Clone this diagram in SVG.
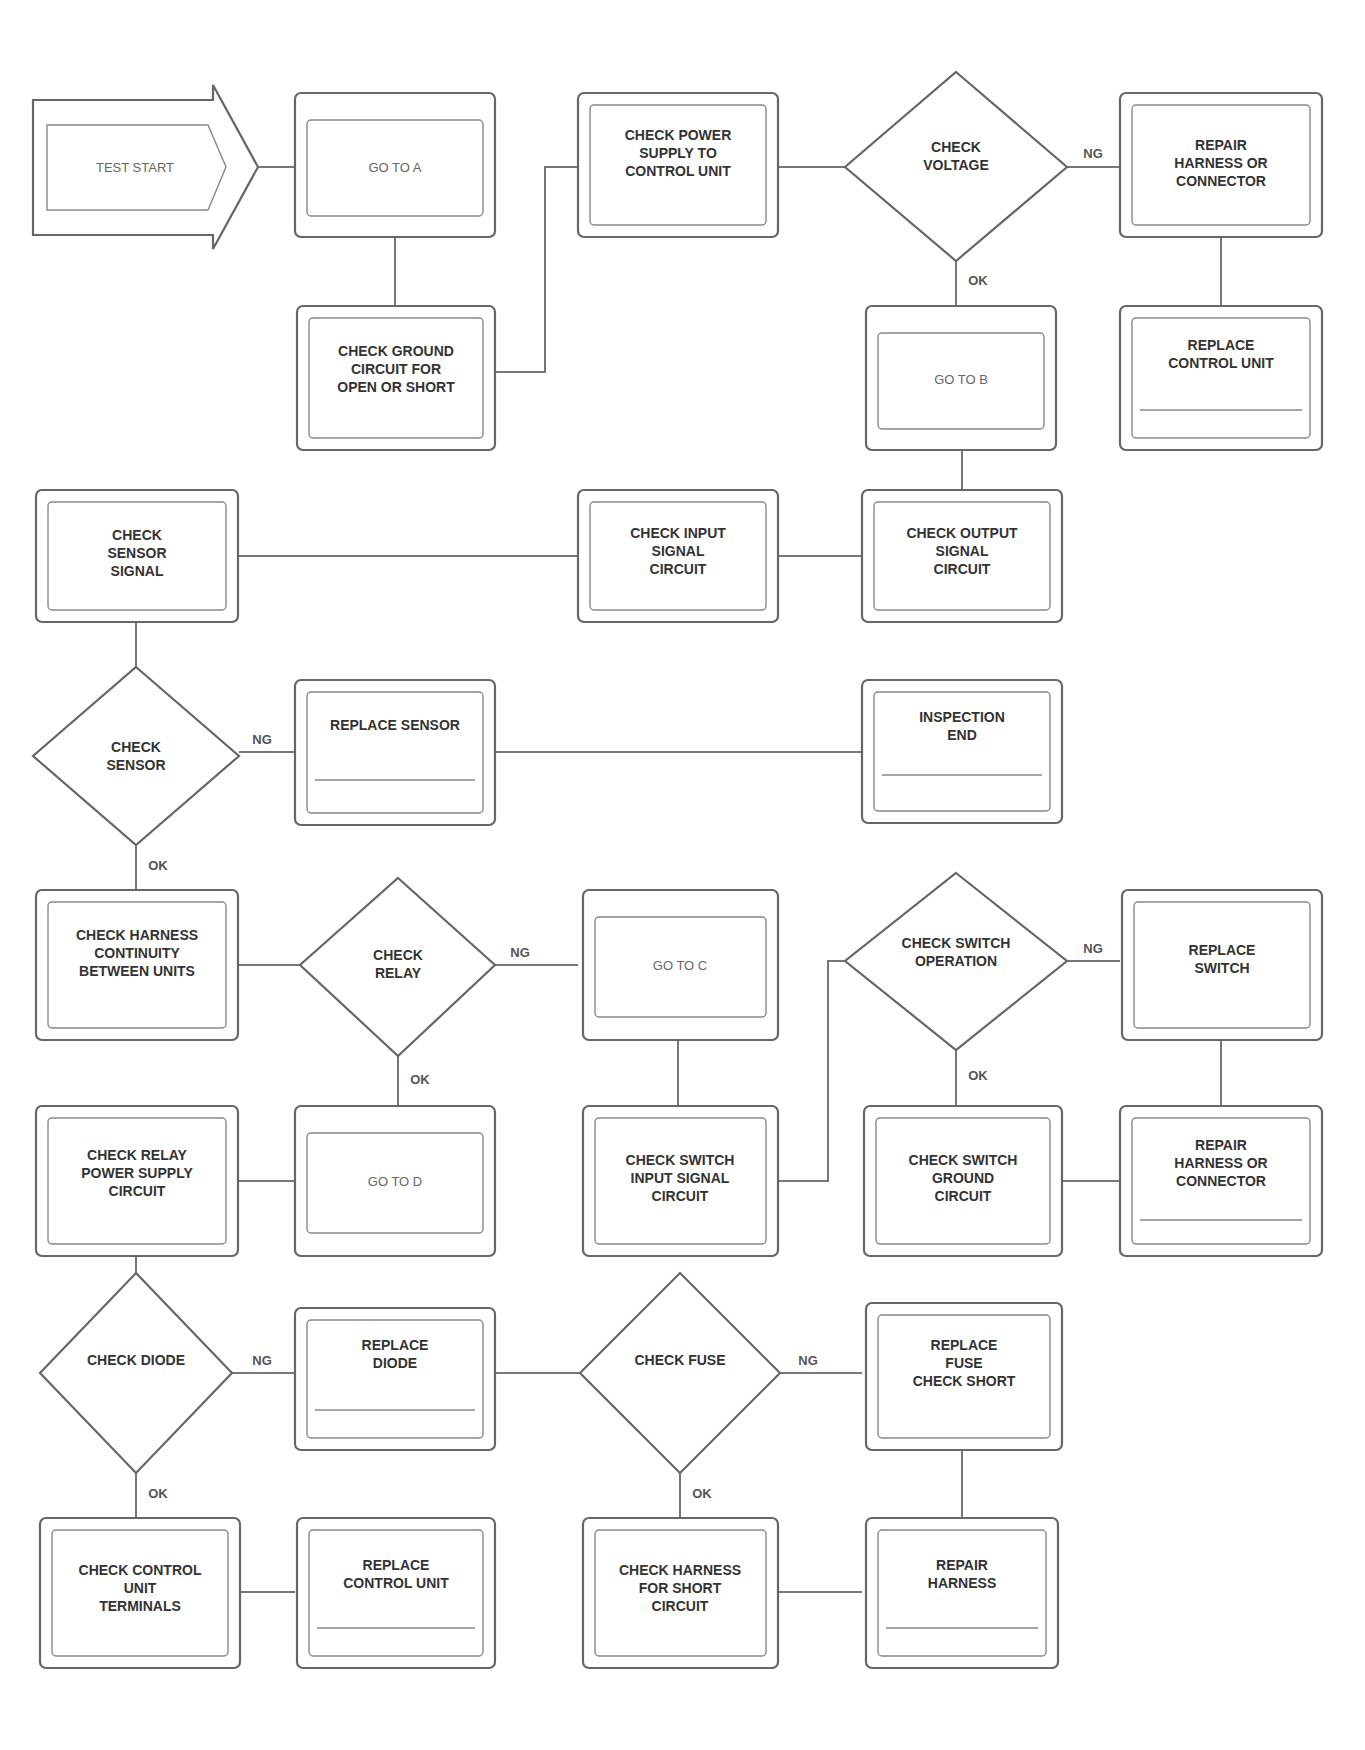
<svg xmlns="http://www.w3.org/2000/svg" width="1365" height="1750" viewBox="0 0 1365 1750">
<style>
.o{fill:#fff;stroke:#666;stroke-width:2.2}
.i{fill:none;stroke:#888;stroke-width:1.4}
.c{fill:none;stroke:#777;stroke-width:2}
.t{font-family:"Liberation Sans",Arial,sans-serif;font-size:14px;font-weight:bold;fill:#333;text-anchor:middle}
.s{font-family:"Liberation Sans",Arial,sans-serif;font-size:13px;fill:#666;text-anchor:middle}
.l{font-family:"Liberation Sans",Arial,sans-serif;font-size:13px;font-weight:bold;fill:#555;text-anchor:middle}
</style>
<rect width="1365" height="1750" fill="#fff"/>
<g id="connectors">
<line class="c" x1="256" y1="167" x2="295" y2="167"/>
<line class="c" x1="395" y1="237" x2="395" y2="306"/>
<polyline class="c" points="495,372 545,372 545,167 578,167"/>
<line class="c" x1="778" y1="167" x2="845" y2="167"/>
<line class="c" x1="1067" y1="167" x2="1120" y2="167"/>
<line class="c" x1="1221" y1="237" x2="1221" y2="306"/>
<line class="c" x1="956" y1="261" x2="956" y2="306"/>
<line class="c" x1="962" y1="450" x2="962" y2="490"/>
<line class="c" x1="238" y1="556" x2="578" y2="556"/>
<line class="c" x1="778" y1="556" x2="862" y2="556"/>
<line class="c" x1="136" y1="622" x2="136" y2="667"/>
<line class="c" x1="239" y1="752" x2="295" y2="752"/>
<line class="c" x1="495" y1="752" x2="862" y2="752"/>
<line class="c" x1="136" y1="845" x2="136" y2="890"/>
<line class="c" x1="238" y1="965" x2="300" y2="965"/>
<line class="c" x1="495" y1="965" x2="578" y2="965"/>
<line class="c" x1="398" y1="1056" x2="398" y2="1106"/>
<line class="c" x1="678" y1="1040" x2="678" y2="1106"/>
<polyline class="c" points="778,1181 828,1181 828,961 845,961"/>
<line class="c" x1="1067" y1="961" x2="1120" y2="961"/>
<line class="c" x1="956" y1="1050" x2="956" y2="1106"/>
<line class="c" x1="1221" y1="1040" x2="1221" y2="1106"/>
<line class="c" x1="1062" y1="1181" x2="1120" y2="1181"/>
<line class="c" x1="238" y1="1181" x2="295" y2="1181"/>
<line class="c" x1="136" y1="1256" x2="136" y2="1273"/>
<line class="c" x1="232" y1="1373" x2="295" y2="1373"/>
<line class="c" x1="495" y1="1373" x2="580" y2="1373"/>
<line class="c" x1="780" y1="1373" x2="862" y2="1373"/>
<line class="c" x1="962" y1="1450" x2="962" y2="1518"/>
<line class="c" x1="136" y1="1473" x2="136" y2="1518"/>
<line class="c" x1="680" y1="1473" x2="680" y2="1518"/>
<line class="c" x1="238" y1="1592" x2="295" y2="1592"/>
<line class="c" x1="778" y1="1592" x2="862" y2="1592"/>
<text class="l" x="1093" y="158">NG</text>
<text class="l" x="978" y="285">OK</text>
<text class="l" x="262" y="744">NG</text>
<text class="l" x="158" y="870">OK</text>
<text class="l" x="520" y="957">NG</text>
<text class="l" x="420" y="1084">OK</text>
<text class="l" x="1093" y="953">NG</text>
<text class="l" x="978" y="1080">OK</text>
<text class="l" x="262" y="1365">NG</text>
<text class="l" x="808" y="1365">NG</text>
<text class="l" x="158" y="1498">OK</text>
<text class="l" x="702" y="1498">OK</text>
</g>
<g id="n1">
<polygon class="o" points="33,100 213,100 213,85 258,167 213,249 213,235 33,235"/>
<polygon class="i" points="47,125 208,125 226,167 208,210 47,210"/>
<text class="s" x="135" y="172">TEST START</text>
</g>
<g id="n2">
<rect class="o" x="295" y="93" width="200" height="144" rx="6"/>
<rect class="i" x="307" y="120" width="176" height="96" rx="4"/>
<text class="s" x="395" y="172">GO TO A</text>
</g>
<g id="n3">
<rect class="o" x="578" y="93" width="200" height="144" rx="6"/>
<rect class="i" x="590" y="105" width="176" height="120" rx="4"/>
<text class="t" x="678" y="140">CHECK POWER</text>
<text class="t" x="678" y="158">SUPPLY TO</text>
<text class="t" x="678" y="176">CONTROL UNIT</text>
</g>
<g id="n5">
<polygon class="o" points="956,72 1067,167 956,261 845,167"/>
<text class="t" x="956" y="152">CHECK</text>
<text class="t" x="956" y="170">VOLTAGE</text>
</g>
<g id="n6">
<rect class="o" x="1120" y="93" width="202" height="144" rx="6"/>
<rect class="i" x="1132" y="105" width="178" height="120" rx="4"/>
<text class="t" x="1221" y="150">REPAIR</text>
<text class="t" x="1221" y="168">HARNESS OR</text>
<text class="t" x="1221" y="186">CONNECTOR</text>
</g>
<g id="n4">
<rect class="o" x="297" y="306" width="198" height="144" rx="6"/>
<rect class="i" x="309" y="318" width="174" height="120" rx="4"/>
<text class="t" x="396" y="356">CHECK GROUND</text>
<text class="t" x="396" y="374">CIRCUIT FOR</text>
<text class="t" x="396" y="392">OPEN OR SHORT</text>
</g>
<g id="n8">
<rect class="o" x="866" y="306" width="190" height="144" rx="6"/>
<rect class="i" x="878" y="333" width="166" height="96" rx="4"/>
<text class="s" x="961" y="384">GO TO B</text>
</g>
<g id="n7">
<rect class="o" x="1120" y="306" width="202" height="144" rx="6"/>
<rect class="i" x="1132" y="318" width="178" height="120" rx="4"/>
<text class="t" x="1221" y="350">REPLACE</text>
<text class="t" x="1221" y="368">CONTROL UNIT</text>
<line class="i" x1="1140" y1="410" x2="1302" y2="410"/>
</g>
<g id="n9">
<rect class="o" x="36" y="490" width="202" height="132" rx="6"/>
<rect class="i" x="48" y="502" width="178" height="108" rx="4"/>
<text class="t" x="137" y="540">CHECK</text>
<text class="t" x="137" y="558">SENSOR</text>
<text class="t" x="137" y="576">SIGNAL</text>
</g>
<g id="n10">
<rect class="o" x="578" y="490" width="200" height="132" rx="6"/>
<rect class="i" x="590" y="502" width="176" height="108" rx="4"/>
<text class="t" x="678" y="538">CHECK INPUT</text>
<text class="t" x="678" y="556">SIGNAL</text>
<text class="t" x="678" y="574">CIRCUIT</text>
</g>
<g id="n11">
<rect class="o" x="862" y="490" width="200" height="132" rx="6"/>
<rect class="i" x="874" y="502" width="176" height="108" rx="4"/>
<text class="t" x="962" y="538">CHECK OUTPUT</text>
<text class="t" x="962" y="556">SIGNAL</text>
<text class="t" x="962" y="574">CIRCUIT</text>
</g>
<g id="d1">
<polygon class="o" points="136,667 239,756 136,845 33,756"/>
<text class="t" x="136" y="752">CHECK</text>
<text class="t" x="136" y="770">SENSOR</text>
</g>
<g id="n12">
<rect class="o" x="295" y="680" width="200" height="145" rx="6"/>
<rect class="i" x="307" y="692" width="176" height="121" rx="4"/>
<text class="t" x="395" y="730">REPLACE SENSOR</text>
<line class="i" x1="315" y1="780" x2="475" y2="780"/>
</g>
<g id="n13">
<rect class="o" x="862" y="680" width="200" height="143" rx="6"/>
<rect class="i" x="874" y="692" width="176" height="119" rx="4"/>
<text class="t" x="962" y="722">INSPECTION</text>
<text class="t" x="962" y="740">END</text>
<line class="i" x1="882" y1="775" x2="1042" y2="775"/>
</g>
<g id="n14">
<rect class="o" x="36" y="890" width="202" height="150" rx="6"/>
<rect class="i" x="48" y="902" width="178" height="126" rx="4"/>
<text class="t" x="137" y="940">CHECK HARNESS</text>
<text class="t" x="137" y="958">CONTINUITY</text>
<text class="t" x="137" y="976">BETWEEN UNITS</text>
</g>
<g id="d2">
<polygon class="o" points="398,878 495,965 398,1056 300,965"/>
<text class="t" x="398" y="960">CHECK</text>
<text class="t" x="398" y="978">RELAY</text>
</g>
<g id="n15">
<rect class="o" x="583" y="890" width="195" height="150" rx="6"/>
<rect class="i" x="595" y="917" width="171" height="100" rx="4"/>
<text class="s" x="680" y="970">GO TO C</text>
</g>
<g id="d3">
<polygon class="o" points="956,873 1067,961 956,1050 845,961"/>
<text class="t" x="956" y="948">CHECK SWITCH</text>
<text class="t" x="956" y="966">OPERATION</text>
</g>
<g id="n16">
<rect class="o" x="1122" y="890" width="200" height="150" rx="6"/>
<rect class="i" x="1134" y="902" width="176" height="126" rx="4"/>
<text class="t" x="1222" y="955">REPLACE</text>
<text class="t" x="1222" y="973">SWITCH</text>
</g>
<g id="n21">
<rect class="o" x="36" y="1106" width="202" height="150" rx="6"/>
<rect class="i" x="48" y="1118" width="178" height="126" rx="4"/>
<text class="t" x="137" y="1160">CHECK RELAY</text>
<text class="t" x="137" y="1178">POWER SUPPLY</text>
<text class="t" x="137" y="1196">CIRCUIT</text>
</g>
<g id="n20">
<rect class="o" x="295" y="1106" width="200" height="150" rx="6"/>
<rect class="i" x="307" y="1133" width="176" height="100" rx="4"/>
<text class="s" x="395" y="1186">GO TO D</text>
</g>
<g id="n19">
<rect class="o" x="583" y="1106" width="195" height="150" rx="6"/>
<rect class="i" x="595" y="1118" width="171" height="126" rx="4"/>
<text class="t" x="680" y="1165">CHECK SWITCH</text>
<text class="t" x="680" y="1183">INPUT SIGNAL</text>
<text class="t" x="680" y="1201">CIRCUIT</text>
</g>
<g id="n18">
<rect class="o" x="864" y="1106" width="198" height="150" rx="6"/>
<rect class="i" x="876" y="1118" width="174" height="126" rx="4"/>
<text class="t" x="963" y="1165">CHECK SWITCH</text>
<text class="t" x="963" y="1183">GROUND</text>
<text class="t" x="963" y="1201">CIRCUIT</text>
</g>
<g id="n17">
<rect class="o" x="1120" y="1106" width="202" height="150" rx="6"/>
<rect class="i" x="1132" y="1118" width="178" height="126" rx="4"/>
<text class="t" x="1221" y="1150">REPAIR</text>
<text class="t" x="1221" y="1168">HARNESS OR</text>
<text class="t" x="1221" y="1186">CONNECTOR</text>
<line class="i" x1="1140" y1="1220" x2="1302" y2="1220"/>
</g>
<g id="d4">
<polygon class="o" points="136,1273 232,1373 136,1473 40,1373"/>
<text class="t" x="136" y="1365">CHECK DIODE</text>
</g>
<g id="n22">
<rect class="o" x="295" y="1308" width="200" height="142" rx="6"/>
<rect class="i" x="307" y="1320" width="176" height="118" rx="4"/>
<text class="t" x="395" y="1350">REPLACE</text>
<text class="t" x="395" y="1368">DIODE</text>
<line class="i" x1="315" y1="1410" x2="475" y2="1410"/>
</g>
<g id="d5">
<polygon class="o" points="680,1273 780,1373 680,1473 580,1373"/>
<text class="t" x="680" y="1365">CHECK FUSE</text>
</g>
<g id="n23">
<rect class="o" x="866" y="1303" width="196" height="147" rx="6"/>
<rect class="i" x="878" y="1315" width="172" height="123" rx="4"/>
<text class="t" x="964" y="1350">REPLACE</text>
<text class="t" x="964" y="1368">FUSE</text>
<text class="t" x="964" y="1386">CHECK SHORT</text>
</g>
<g id="n25">
<rect class="o" x="40" y="1518" width="200" height="150" rx="6"/>
<rect class="i" x="52" y="1530" width="176" height="126" rx="4"/>
<text class="t" x="140" y="1575">CHECK CONTROL</text>
<text class="t" x="140" y="1593">UNIT</text>
<text class="t" x="140" y="1611">TERMINALS</text>
</g>
<g id="n27">
<rect class="o" x="297" y="1518" width="198" height="150" rx="6"/>
<rect class="i" x="309" y="1530" width="174" height="126" rx="4"/>
<text class="t" x="396" y="1570">REPLACE</text>
<text class="t" x="396" y="1588">CONTROL UNIT</text>
<line class="i" x1="317" y1="1628" x2="475" y2="1628"/>
</g>
<g id="n26">
<rect class="o" x="583" y="1518" width="195" height="150" rx="6"/>
<rect class="i" x="595" y="1530" width="171" height="126" rx="4"/>
<text class="t" x="680" y="1575">CHECK HARNESS</text>
<text class="t" x="680" y="1593">FOR SHORT</text>
<text class="t" x="680" y="1611">CIRCUIT</text>
</g>
<g id="n24">
<rect class="o" x="866" y="1518" width="192" height="150" rx="6"/>
<rect class="i" x="878" y="1530" width="168" height="126" rx="4"/>
<text class="t" x="962" y="1570">REPAIR</text>
<text class="t" x="962" y="1588">HARNESS</text>
<line class="i" x1="886" y1="1628" x2="1038" y2="1628"/>
</g>
</svg>
